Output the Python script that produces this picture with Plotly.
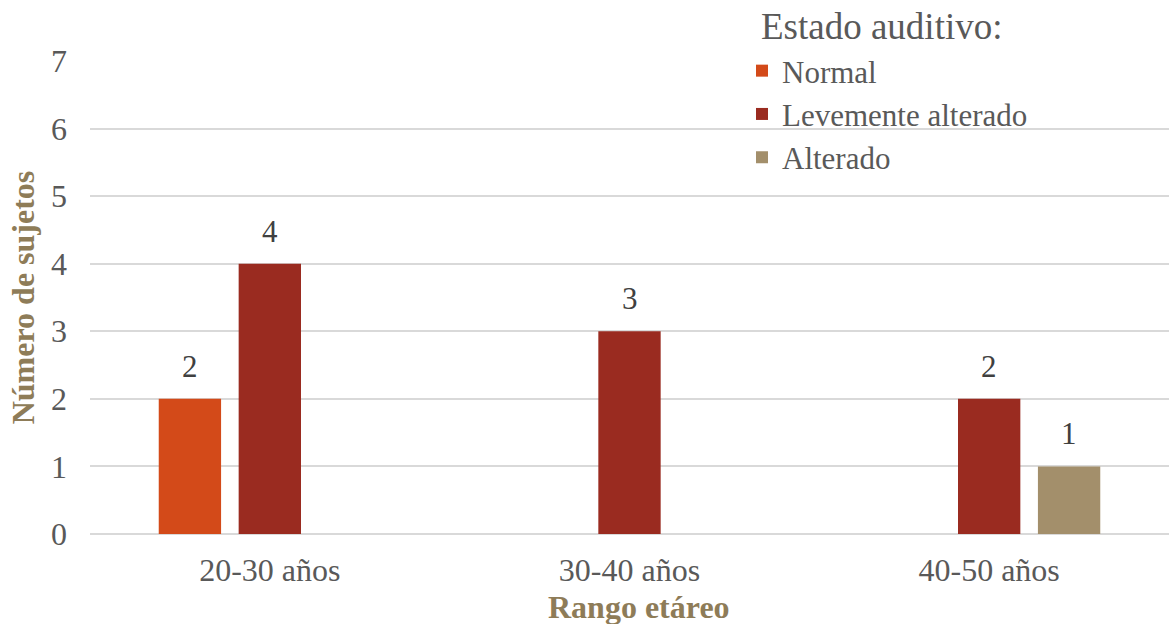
import plotly.graph_objects as go

# Datos: número de sujetos por rango etáreo y estado auditivo
rangos = ["20-30 años", "30-40 años", "40-50 años"]
normal = [2, None, None]
levemente_alterado = [4, 3, 2]
alterado = [None, None, 1]

series = [
    ("Normal", normal, "#D34A19"),
    ("Levemente alterado", levemente_alterado, "#9A2B20"),
    ("Alterado", alterado, "#A38F6B"),
]

FONT = "Liberation Serif, Times New Roman, serif"
GRAY = "#595959"
TITLE_COLOR = "#8E7C58"
BARGAP = 1 / 3
BARGROUPGAP = 0.22

# Área de trazado en píxeles
W, H = 1169, 624
L, R, T, B = 90, 0, 61, 90
PW, PH = W - L - R, H - T - B


def px_x(x):
    return (x - L) / PW


def px_y(y):
    return (H - B - y) / PH


fig = go.Figure()
for name, vals, color in series:
    fig.add_trace(go.Bar(
        name=name, x=rangos, y=vals,
        marker=dict(color=color, line=dict(width=0)),
    ))

# Etiquetas de valor sobre cada barra
n = len(series)
slot = (1 - BARGAP) / n
for i, (name, vals, color) in enumerate(series):
    for j, v in enumerate(vals):
        if v is None:
            continue
        fig.add_annotation(
            x=j + (i - (n - 1) / 2) * slot, y=v, xref="x", yref="y",
            text=str(v), showarrow=False, yanchor="bottom", yshift=13,
            font=dict(family=FONT, size=31, color="#404040"),
        )

# Título de la leyenda
fig.add_annotation(
    x=px_x(759), y=px_y(4), xref="paper", yref="paper",
    text="Estado auditivo:", showarrow=False,
    xanchor="left", yanchor="top",
    font=dict(family=FONT, size=37, color=GRAY),
)

# Título del eje X
fig.add_annotation(
    x=px_x(639), y=px_y(607), xref="paper", yref="paper",
    text="<b>Rango etáreo</b>", showarrow=False,
    xanchor="center", yanchor="middle",
    font=dict(family=FONT, size=32, color=TITLE_COLOR),
)

fig.update_layout(
    width=W, height=H,
    margin=dict(l=L, r=R, t=T, b=B),
    paper_bgcolor="white", plot_bgcolor="white",
    barmode="group", bargap=BARGAP, bargroupgap=BARGROUPGAP,
    font=dict(family=FONT, color=GRAY),
    legend=dict(
        font=dict(family=FONT, size=31, color=GRAY),
        x=px_x(742), y=px_y(44), xanchor="left", yanchor="top",
        bgcolor="rgba(0,0,0,0)", tracegroupgap=0,
    ),
    xaxis=dict(
        tickfont=dict(family=FONT, size=32, color=GRAY),
        ticks="", showline=False, showgrid=False,
        ticklabelstandoff=14,
    ),
    yaxis=dict(
        range=[0, 7], dtick=1,
        tickfont=dict(family=FONT, size=32, color=GRAY),
        ticks="", showline=False,
        showgrid=True, gridcolor="#D9D9D9", gridwidth=1.5,
        zeroline=True, zerolinecolor="#D9D9D9", zerolinewidth=1.5,
        ticklabelstandoff=22,
        title=dict(text="<b>Número de sujetos</b>", standoff=6,
                   font=dict(family=FONT, size=32, color=TITLE_COLOR)),
    ),
)

fig.write_html("out.html")
